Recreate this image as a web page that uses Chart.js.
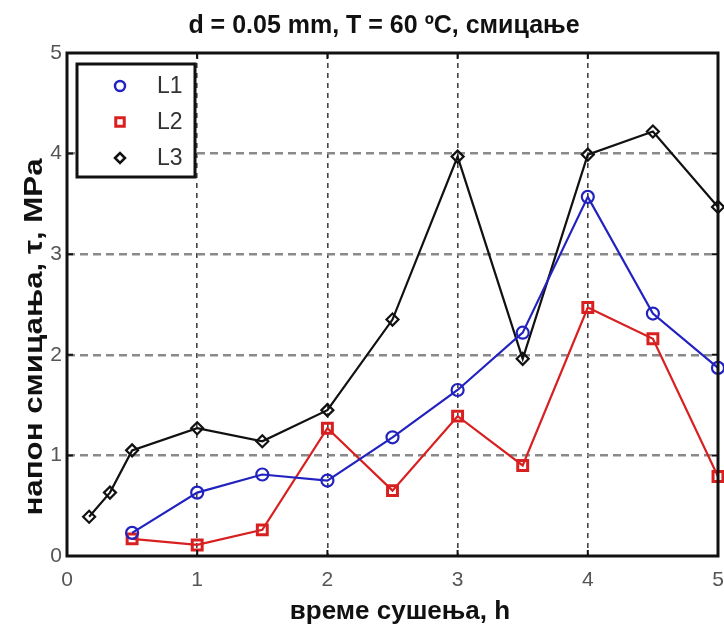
<!DOCTYPE html>
<html>
<head>
<meta charset="utf-8">
<script src="https://cdn.jsdelivr.net/npm/chart.js@4"></script>
<style>
  body { margin: 0; background: #fff; }
  #wrap { width: 724px; height: 627px; }
</style>
</head>
<body>
<div id="wrap"><canvas id="chart" width="724" height="627"></canvas></div>
<script>
// values
const xL12 = [0.5, 1, 1.5, 2, 2.5, 3, 3.5, 4, 4.5, 5];
const l1 = [0.23, 0.63, 0.81, 0.75, 1.18, 1.65, 2.22, 3.57, 2.41, 1.87];
const l2 = [0.17, 0.11, 0.26, 1.27, 0.65, 1.39, 0.90, 2.47, 2.16, 0.79];
const xL3 = [0.17, 0.33, 0.5, 1, 1.5, 2, 2.5, 3, 3.5, 4, 4.5, 5];
const l3 = [0.39, 0.63, 1.05, 1.27, 1.14, 1.45, 2.35, 3.97, 1.96, 3.99, 4.22, 3.47];
const xTicks = [0, 1, 2, 3, 4, 5];
const yTicks = [0, 1, 2, 3, 4, 5];

const titleText = "d = 0.05 mm, T = 60 \u00baC, смицање";
const xTitle = "време сушења, h";
const yTitle = "напон смицања, τ, MPa";

const toPoints = (xs, ys) => xs.map((x, i) => ({ x, y: ys[i] }));

const series = [
  { label: "L1", data: toPoints(xL12, l1), color: "#2222c0", style: "circle", radius: 6 },
  { label: "L2", data: toPoints(xL12, l2), color: "#d82020", style: "rect", radius: 7 },
  { label: "L3", data: toPoints(xL3, l3), color: "#111111", style: "rectRot", radius: 6 },
];

const FONT = "'Liberation Sans', Arial, sans-serif";

const extras = {
  id: "extras",
  afterDraw(chart) {
    const { ctx, chartArea: a, scales } = chart;
    ctx.save();
    // small inward ticks on the frame
    ctx.strokeStyle = "#111";
    ctx.lineWidth = 2;
    ctx.setLineDash([]);
    xTicks.forEach((v) => {
      const px = scales.x.getPixelForValue(v);
      ctx.beginPath();
      ctx.moveTo(px, a.bottom); ctx.lineTo(px, a.bottom - 6);
      ctx.moveTo(px, a.top); ctx.lineTo(px, a.top + 6);
      ctx.stroke();
    });
    yTicks.forEach((v) => {
      const py = scales.y.getPixelForValue(v);
      ctx.beginPath();
      ctx.moveTo(a.left, py); ctx.lineTo(a.left + 6, py);
      ctx.moveTo(a.right, py); ctx.lineTo(a.right - 6, py);
      ctx.stroke();
    });
    // frame
    ctx.lineWidth = 3;
    ctx.strokeRect(a.left, a.top, a.right - a.left, a.bottom - a.top);

    // legend box
    const lx = 77, ly = 64, lw = 118, lh = 113;
    ctx.fillStyle = "#fff";
    ctx.fillRect(lx, ly, lw, lh);
    ctx.strokeRect(lx, ly, lw, lh);
    ctx.textBaseline = "middle";
    ctx.textAlign = "left";
    series.forEach((s, i) => {
      const cy = 86 + i * 36;
      ctx.lineWidth = s.style === "rect" ? 3 : 2.5;
      ctx.strokeStyle = s.color;
      ctx.fillStyle = "#fff";
      Chart.helpers.drawPoint(ctx, { pointStyle: s.style, radius: s.radius - 1, rotation: 0, borderWidth: ctx.lineWidth }, 120, cy);
      ctx.fillStyle = "#333";
      ctx.font = "23px " + FONT;
      ctx.fillText(s.label, 157, cy + 1);
    });

    // titles
    ctx.fillStyle = "#111";
    ctx.textAlign = "center";
    ctx.textBaseline = "alphabetic";
    ctx.font = "bold 25px " + FONT;
    ctx.fillText(titleText, 384, 33);
    ctx.font = "bold 26px " + FONT;
    ctx.fillText(xTitle, 400, 619);
    ctx.font = "bold 25px " + FONT;
    ctx.translate(42, 337);
    ctx.rotate(-Math.PI / 2);
    ctx.scale(1.25, 1);
    ctx.fillText(yTitle, 0, 0);
    ctx.restore();
  },
};

new Chart(document.getElementById("chart"), {
  type: "line",
  data: {
    datasets: series.map((s) => ({
      label: s.label,
      data: s.data,
      borderColor: s.color,
      backgroundColor: "#fff",
      borderWidth: 2.2,
      pointStyle: s.style,
      pointRadius: s.radius,
      pointBorderWidth: s.style === "rect" ? 3 : 2.2,
      pointBorderColor: s.color,
      pointBackgroundColor: "rgba(255,255,255,0)",
      tension: 0,
      clip: false,
    })),
  },
  options: {
    responsive: false,
    animation: false,
    layout: { autoPadding: false, padding: { left: 0, right: 6, top: 53, bottom: 0 } },
    plugins: { legend: { display: false }, tooltip: { enabled: false }, title: { display: false } },
    scales: {
      x: {
        type: "linear",
        min: 0,
        max: 5,
        afterBuildTicks: (scale) => { scale.ticks = xTicks.map((v) => ({ value: v })); },
        afterFit: (scale) => { scale.height = 71; scale.paddingLeft = 0; scale.paddingRight = 0; },
        ticks: {
          color: "#555",
          font: { family: FONT, size: 21 },
          padding: 12,
          maxRotation: 0,
        },
        grid: {
          color: (c) => (c.tick && (c.tick.value === 0 || c.tick.value === 5) ? "rgba(0,0,0,0)" : "#444"),
          lineWidth: 1.6,
          drawTicks: false,
        },
        border: { display: false, dash: [5, 5] },
      },
      y: {
        type: "linear",
        min: 0,
        max: 5,
        afterBuildTicks: (scale) => { scale.ticks = yTicks.map((v) => ({ value: v })); },
        afterFit: (scale) => { scale.width = 67; },
        ticks: {
          color: "#555",
          font: { family: FONT, size: 21 },
          padding: 5,
        },
        grid: {
          color: (c) => (c.tick && (c.tick.value === 0 || c.tick.value === 5) ? "rgba(0,0,0,0)" : "#8a8a8a"),
          lineWidth: 2.4,
          drawTicks: false,
        },
        border: { display: false, dash: [8, 5] },
      },
    },
  },
  plugins: [extras],
});
</script>
</body>
</html>
